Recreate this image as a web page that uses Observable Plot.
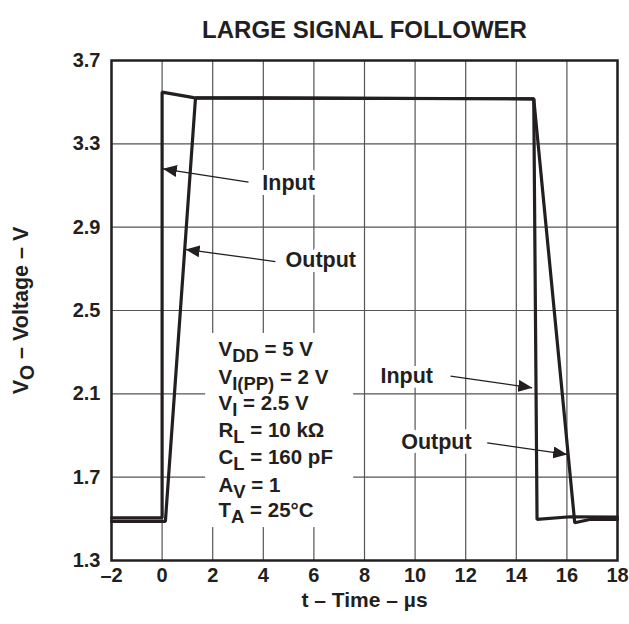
<!DOCTYPE html>
<html><head><meta charset="utf-8">
<script src="https://cdn.jsdelivr.net/npm/d3@7"></script>
<script src="https://cdn.jsdelivr.net/npm/@observablehq/plot@0.6"></script>
<style>
body{margin:0;background:#fff;}
svg{font-family:"Liberation Sans",Arial,Helvetica,sans-serif;font-weight:bold;}
</style>
</head><body><div id="chart"></div>
<script>
// Waveforms (t in µs, V in volts)
const inputTime  = [-2, 0, 0, 1.25, 14.69, 14.82, 16.14, 18];
const inputVolt  = [1.505, 1.505, 3.548, 3.522, 3.516, 1.497, 1.51, 1.508];
const outputTime = [-2, 0.13, 1.32, 14.69, 16.31, 16.9, 18];
const outputVolt = [1.488, 1.488, 3.52, 3.516, 1.481, 1.497, 1.497];

// Axes
const xTicks = [-2, 0, 2, 4, 6, 8, 10, 12, 14, 16, 18];
const yTicks = [1.3, 1.7, 2.1, 2.5, 2.9, 3.3, 3.7];
const xDomain = [-2, 18];
const yDomain = [1.3, 3.7];

// Annotations
const labelText = ["Input", "Output", "Input", "Output"];
const labelX = [3.96, 4.88, 8.63, 9.45];
const labelY = [3.11, 2.74, 2.185, 1.866];
const arrowX1 = [3.415, 4.48, 11.40, 12.85];
const arrowY1 = [3.116, 2.735, 2.185, 1.865];
const arrowX2 = [0.03, 0.93, 14.63, 16.01];
const arrowY2 = [3.180, 2.793, 2.129, 1.809];

const paramText = ["V_{DD} = 5 V", "V_{I(PP)} = 2 V", "V_{I} = 2.5 V", "R_{L} = 10 kΩ", "C_{L} = 160 pF", "A_{V} = 1", "T_{A} = 25°C"];
const paramX = 2.23;
const paramY = [2.312, 2.18, 2.054, 1.924, 1.794, 1.661, 1.541];
const paramBox = {x1: 1.72, x2: 7.57, y1: 1.458, y2: 2.39};

const title = "LARGE SIGNAL FOLLOWER";
const xTitle = "t – Time – µs";
const yTitle = "V_{O} – Voltage – V";

const ink = "#231f20";
const inputData = inputTime.map((t, i) => ({t, v: inputVolt[i]}));
const outputData = outputTime.map((t, i) => ({t, v: outputVolt[i]}));
const labels = labelText.map((s, i) => ({s, x: labelX[i], y: labelY[i]}));
const arrows = arrowX1.map((x1, i) => ({x1, y1: arrowY1[i], x2: arrowX2[i], y2: arrowY2[i]}));
const params = paramText.map((s, i) => ({s, x: paramX, y: paramY[i]}));

const chart = Plot.plot({
  width: 629, height: 624,
  marginLeft: 111, marginRight: 12, marginTop: 60, marginBottom: 64,
  style: {fontSize: "20px", fontWeight: "bold", fontFamily: "Liberation Sans, Arial, sans-serif", color: ink, background: "#fff"},
  x: {domain: xDomain, ticks: xTicks, tickSize: 0, tickPadding: 7, label: null,
      tickFormat: d => d < 0 ? "–" + (-d) : String(d)},
  y: {domain: yDomain, ticks: yTicks, tickSize: 0, tickPadding: 11, label: null,
      tickFormat: d => d.toFixed(1)},
  marks: [
    Plot.gridX(xTicks, {stroke: "#555", strokeOpacity: 1, strokeWidth: 1.2}),
    Plot.gridY(yTicks, {stroke: "#555", strokeOpacity: 1, strokeWidth: 1.2}),
    Plot.rect([paramBox], {x1: "x1", x2: "x2", y1: "y1", y2: "y2", fill: "white"}),
    Plot.line(inputData, {x: "t", y: "v", stroke: ink, strokeWidth: 3.2, strokeLinejoin: "miter"}),
    Plot.line(outputData, {x: "t", y: "v", stroke: ink, strokeWidth: 3.2, strokeLinejoin: "miter"}),
    Plot.text(labels, {x: "x", y: "y", text: "s", textAnchor: "start", fontSize: 21.5, fill: ink, stroke: "white", strokeWidth: 10}),
    Plot.link(arrows, {x1: "x1", y1: "y1", x2: "x2", y2: "y2", stroke: ink, strokeWidth: 1.3}),
    Plot.text(params, {x: "x", y: "y", text: "s", textAnchor: "start", fontSize: 20.5, fill: ink}),
    Plot.text([title], {frameAnchor: "top", dy: -40, fontSize: 24, fill: ink}),
    Plot.text([xTitle], {frameAnchor: "bottom", dy: 46, fontSize: 21, fill: ink}),
    Plot.text([yTitle], {frameAnchor: "left", textAnchor: "middle", dx: -90, rotate: -90, fontSize: 21.5, fill: ink}),
    Plot.frame({stroke: ink, strokeWidth: 2.5})
  ]
});
document.getElementById("chart").appendChild(chart);

// filled triangular arrowheads
const svg = d3.select(chart);
const defs = svg.insert("defs", ":first-child");
defs.append("marker").attr("id", "tri").attr("viewBox", "0 0 14 12")
  .attr("refX", 14).attr("refY", 6).attr("markerWidth", 14).attr("markerHeight", 12)
  .attr("markerUnits", "userSpaceOnUse").attr("orient", "auto")
  .append("path").attr("d", "M0,0L14,6L0,12Z").attr("fill", ink);
svg.selectAll("g[aria-label='link'] path").attr("marker-end", "url(#tri)");

// subscripts (baseline-shift keeps text-anchor chunks intact)
svg.selectAll("text").each(function() {
  const el = this;
  if (el.querySelector("tspan")) return;
  const s = el.textContent;
  if (!s.includes("_{")) return;
  el.textContent = "";
  const parts = s.split(/(_\{[^}]*\})/);
  for (const p of parts) {
    if (!p) continue;
    const ts = document.createElementNS("http://www.w3.org/2000/svg", "tspan");
    if (p.startsWith("_{")) {
      ts.textContent = p.slice(2, -1);
      ts.setAttribute("baseline-shift", "-5.5");
      ts.setAttribute("font-size", "0.9em");
    } else {
      ts.textContent = p;
    }
    el.appendChild(ts);
  }
});
</script>
</body></html>
